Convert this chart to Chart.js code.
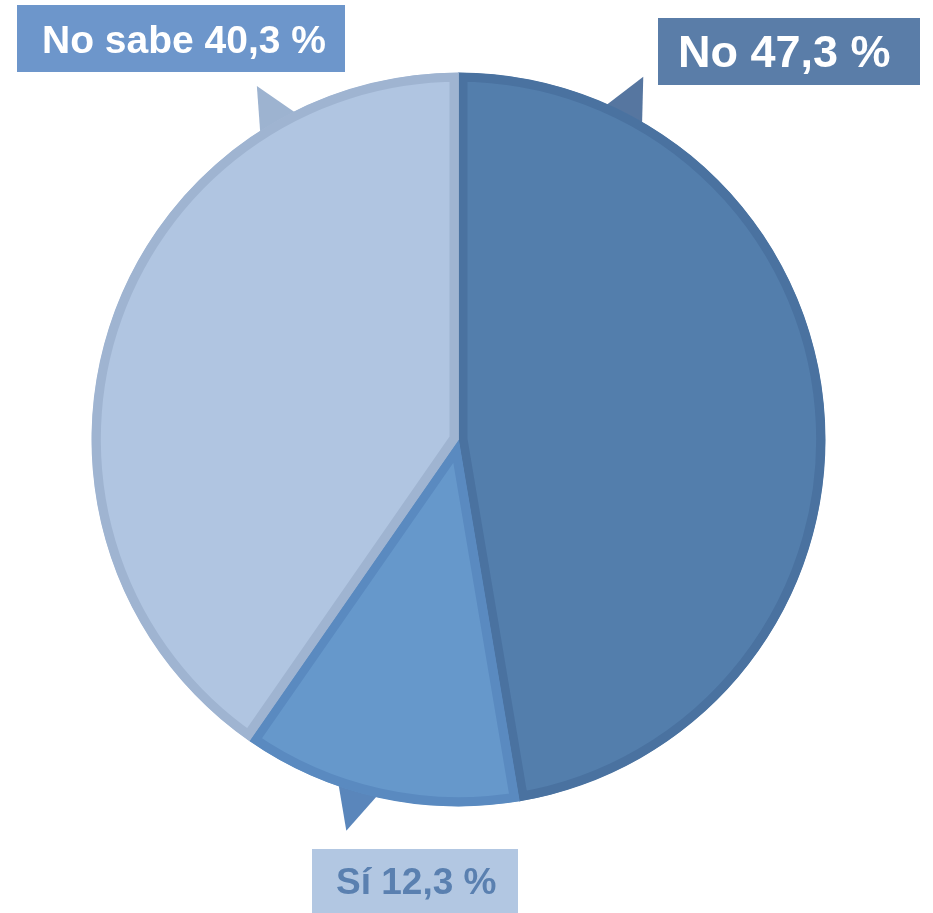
<!DOCTYPE html>
<html>
<head>
<meta charset="utf-8">
<script src="https://cdn.jsdelivr.net/npm/chart.js@4"></script>
<style>
html,body{margin:0;padding:0;background:#fff;}
#wrap{width:933px;height:913px;position:relative;}
</style>
</head>
<body>
<div id="wrap"><canvas id="c" width="933" height="913"></canvas></div>
<script>
// Data
const categories = ['No', 'Sí', 'No sabe'];
const values = [47.3, 12.3, 40.3];
const labelTexts = ['No 47,3 %', 'Sí 12,3 %', 'No sabe 40,3 %'];

// Styles
const fillColors = ['#537eac', '#6698cb', '#b0c5e1'];
const borderColors = ['#4a72a0', '#5a8ac0', '#9fb4d1'];
const pointerColors = ['#5676a0', '#5a86bb', '#9db3d0'];
const pointerAngles = [27, 196, -29.7];   // degrees clockwise from top
const boxes = [
  {x:658, y:18, w:262, h:67, fill:'#5a7da8', color:'#ffffff', font:'bold 45px "Liberation Sans", Arial, sans-serif', tx:678, ty:67},
  {x:312, y:849, w:206, h:64, fill:'#b2c7e2', color:'#5a80b0', font:'bold 37px "Liberation Sans", Arial, sans-serif', tx:336, ty:894},
  {x:17, y:5, w:328, h:67, fill:'#6d96cb', color:'#ffffff', font:'bold 39px "Liberation Sans", Arial, sans-serif', tx:42, ty:53}
];

const calloutPlugin = {
  id: 'callouts',
  beforeDatasetsDraw(chart) {
    const ctx = chart.ctx;
    const meta = chart.getDatasetMeta(0);
    meta.data.forEach((arc, i) => {
      const R = arc.outerRadius;
      const cx = arc.x, cy = arc.y;
      const a = pointerAngles[i] * Math.PI / 180;
      const half = 3.9 * Math.PI / 180;
      const pt = (ang, r) => [cx + r * Math.sin(ang), cy - r * Math.cos(ang)];
      const b1 = pt(a - half, R - 10);
      const b2 = pt(a + half, R - 10);
      const tip = pt(a, R + 40);
      ctx.save();
      ctx.fillStyle = pointerColors[i];
      ctx.beginPath();
      ctx.moveTo(b1[0], b1[1]);
      ctx.lineTo(tip[0], tip[1]);
      ctx.lineTo(b2[0], b2[1]);
      ctx.closePath();
      ctx.fill();
      ctx.restore();
    });
  },
  afterDraw(chart) {
    const ctx = chart.ctx;
    boxes.forEach((b, i) => {
      ctx.save();
      ctx.fillStyle = b.fill;
      ctx.fillRect(b.x, b.y, b.w, b.h);
      ctx.fillStyle = b.color;
      ctx.font = b.font;
      ctx.textBaseline = 'alphabetic';
      ctx.textAlign = 'left';
      ctx.fillText(labelTexts[i], b.tx, b.ty);
      ctx.restore();
    });
  }
};

new Chart(document.getElementById('c'), {
  type: 'pie',
  data: {
    labels: categories,
    datasets: [{
      data: values,
      backgroundColor: fillColors,
      borderColor: borderColors,
      borderWidth: 9,
      borderAlign: 'inner',
      hoverOffset: 0
    }]
  },
  options: {
    responsive: false,
    animation: false,
    radius: 367,
    layout: { padding: { left: 92, right: 108, top: 73, bottom: 107 } },
    plugins: { legend: { display: false }, tooltip: { enabled: false } }
  },
  plugins: [calloutPlugin]
});
</script>
</body>
</html>
